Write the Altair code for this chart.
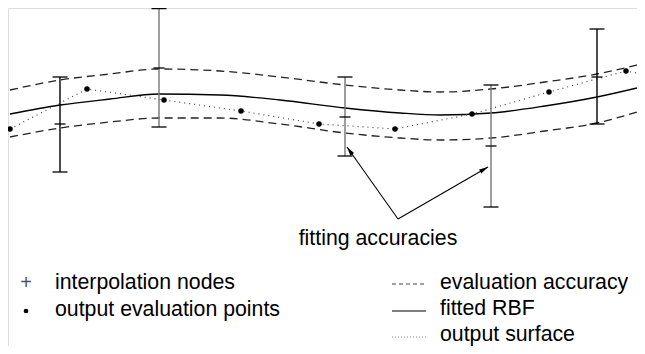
import math
import altair as alt
import pandas as pd

# ---- data (pixel-like units) ----
bar_x = [60, 159, 345, 491, 597]
bar_top = [77, 8.6, 77, 85, 29]
bar_bottom = [172, 127, 156, 207, 124]
node_y = [124, 68, 117, 146, 77]
bar_shade = ["dark", "light", "light", "light", "dark"]

dot_x = [10, 87, 164, 241, 319, 395, 472, 549, 626]
dot_y = [129, 89, 100, 111, 124, 129, 114, 92, 71]
surface_x = dot_x + [637]
surface_y = dot_y + [73]

rbf_x = [10, 60, 110, 159, 220, 280, 345, 400, 440, 491, 545, 597, 637]
rbf_y = [114, 105, 99, 94, 95, 100, 108, 113, 115, 113, 106, 97, 88]
upper_y = [90, 80, 74, 69, 71, 77, 85, 90, 92, 89, 82, 74, 65]
lower_y = [137, 128, 122, 118, 118, 124, 133, 138, 140, 138, 131, 123, 112]

arrow_from = (398, 219)
arrow_tips_x = [347, 488]
arrow_tips_y = [147, 167]

label_text = "fitting accuracies"
legend_left = ["interpolation nodes", "output evaluation points"]
legend_right = ["evaluation accuracy", "fitted RBF", "output surface"]

# ---- scales ----
W, H = 629, 338
xs = alt.Scale(domain=[8, 8 + W], nice=False, zero=False)
ys = alt.Scale(domain=[8, 8 + H], nice=False, zero=False, reverse=True)
X = lambda f: alt.X(f, type="quantitative", scale=xs, axis=None)
Y = lambda f: alt.Y(f, type="quantitative", scale=ys, axis=None)
FONT = "Liberation Sans"
FS = 21.3
shade = alt.Color("shade:N", scale=alt.Scale(domain=["dark", "light"], range=["#000000", "#767676"]), legend=None)

bars = pd.DataFrame({"x": bar_x, "top": bar_top, "bottom": bar_bottom, "node": node_y, "shade": bar_shade})
dots = pd.DataFrame({"x": dot_x, "y": dot_y})
surf = pd.DataFrame({"x": surface_x, "y": surface_y})
curves = pd.DataFrame({"x": rbf_x, "rbf": rbf_y, "up": upper_y, "lo": lower_y})

layers = []
# curves
layers.append(alt.Chart(curves).mark_line(color="#000", strokeWidth=1.3, interpolate="monotone").encode(x=X("x"), y=Y("rbf")))
for col in ["up", "lo"]:
    layers.append(alt.Chart(curves).mark_line(color="#222", strokeWidth=1.3, strokeDash=[8, 5], interpolate="monotone").encode(x=X("x"), y=Y(col)))
layers.append(alt.Chart(surf).mark_line(color="#444", strokeWidth=1.2, strokeDash=[1, 4]).encode(x=X("x"), y=Y("y")))

# error bars
layers.append(alt.Chart(bars).mark_rule(strokeWidth=1.4).encode(x=X("x"), y=Y("top"), y2="bottom:Q", color=shade))
for col in ["top", "bottom"]:
    layers.append(alt.Chart(bars).mark_tick(orient="horizontal", size=15, thickness=1.3, opacity=1, color="#000").encode(x=X("x"), y=Y(col)))
layers.append(alt.Chart(bars).mark_tick(orient="horizontal", size=11, thickness=1.3, opacity=1, color="#000").encode(x=X("x"), y=Y("node")))

# evaluation points
layers.append(alt.Chart(dots).mark_circle(size=30, color="#000", opacity=1).encode(x=X("x"), y=Y("y")))

# arrows
arr = pd.DataFrame({
    "x0": [arrow_from[0]] * 2, "y0": [arrow_from[1]] * 2,
    "x": arrow_tips_x, "y": arrow_tips_y,
})
arr["angle"] = [
    (math.degrees(math.atan2(tx - arrow_from[0], -(ty - arrow_from[1]))) + 360) % 360
    for tx, ty in zip(arrow_tips_x, arrow_tips_y)
]
layers.append(alt.Chart(arr).mark_rule(color="#000", strokeWidth=1.1).encode(x=X("x0"), y=Y("y0"), x2="x:Q", y2="y:Q"))
layers.append(alt.Chart(arr).mark_point(shape="M0,0L-0.45,1.8L0.45,1.8Z", filled=True, size=100, color="#000", opacity=1).encode(
    x=X("x"), y=Y("y"), angle=alt.Angle("angle:Q", scale=None)))

# label
lab = pd.DataFrame({"x": [378], "y": [245], "t": [label_text]})
layers.append(alt.Chart(lab).mark_text(font=FONT, fontSize=FS, align="center", baseline="alphabetic", color="#000").encode(x=X("x"), y=Y("y"), text="t:N"))

# legend texts
leg_txt = pd.DataFrame({
    "x": [55, 55, 440, 440, 440],
    "y": [289, 316, 289, 315, 341],
    "t": legend_left + legend_right,
})
layers.append(alt.Chart(leg_txt).mark_text(font=FONT, fontSize=FS, align="left", baseline="alphabetic", color="#000").encode(x=X("x"), y=Y("y"), text="t:N"))

# legend symbols
plus = pd.DataFrame({"x": [26], "y": [283], "t": ["+"]})
layers.append(alt.Chart(plus).mark_text(font=FONT, fontSize=20, align="center", baseline="middle", color="#555").encode(x=X("x"), y=Y("y"), text="t:N"))
bullet = pd.DataFrame({"x": [26], "y": [311]})
layers.append(alt.Chart(bullet).mark_circle(size=22, color="#000", opacity=1).encode(x=X("x"), y=Y("y")))

samples = pd.DataFrame({"x": [392], "x2": [426], "y": [284]})
layers.append(alt.Chart(samples).mark_rule(color="#444", strokeWidth=1.1, strokeDash=[4, 3]).encode(x=X("x"), x2="x2:Q", y=Y("y")))
samples2 = pd.DataFrame({"x": [392], "x2": [426], "y": [311]})
layers.append(alt.Chart(samples2).mark_rule(color="#000", strokeWidth=1.2).encode(x=X("x"), x2="x2:Q", y=Y("y")))
samples3 = pd.DataFrame({"x": [392], "x2": [426], "y": [337]})
layers.append(alt.Chart(samples3).mark_rule(color="#888", strokeWidth=1.0, strokeDash=[1, 2]).encode(x=X("x"), x2="x2:Q", y=Y("y")))

chart = alt.layer(*layers).properties(
    width=W, height=H, padding=0, autosize=alt.AutoSizeParams(type="none")
).configure_view(strokeWidth=0).configure(background="white")

chart.save("out.html", embed_options={"renderer": "svg", "actions": False})
